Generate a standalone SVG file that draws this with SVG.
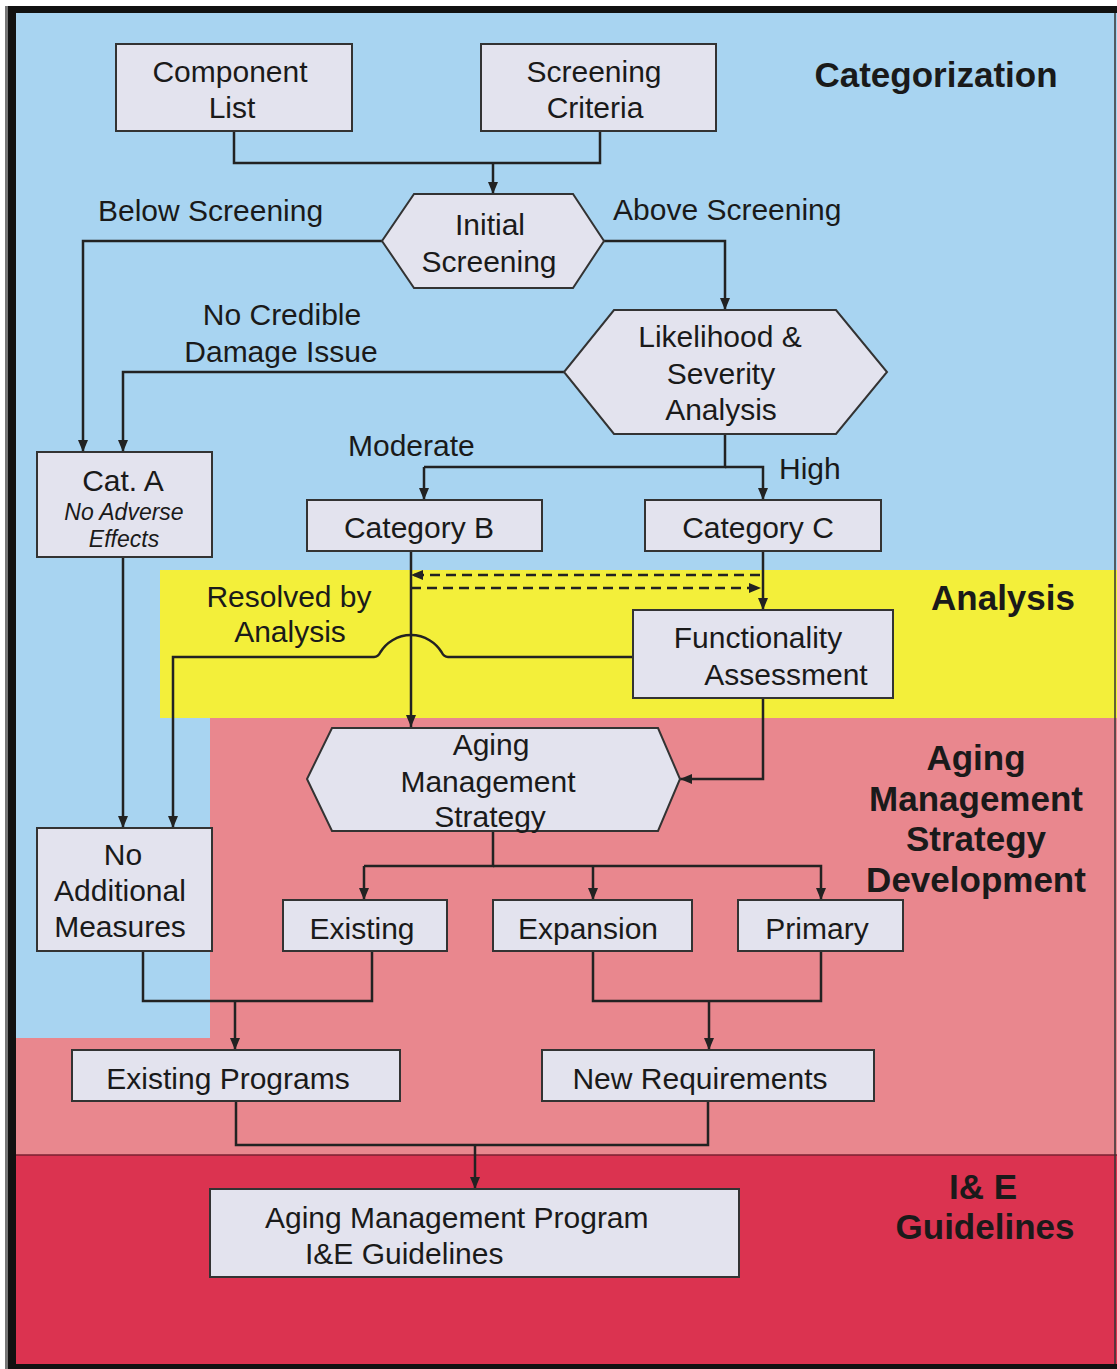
<svg xmlns="http://www.w3.org/2000/svg" width="1117" height="1369" viewBox="0 0 1117 1369">
<defs>
<marker id="ah" viewBox="0 0 12 10" refX="12" refY="5" markerWidth="12" markerHeight="10" markerUnits="userSpaceOnUse" orient="auto"><path d="M0,0 L12,5 L0,10 z" fill="#222"/></marker>
<style>
.n{fill:#e3e3ee;stroke:#333;stroke-width:2}
.t{font-family:"Liberation Sans",Arial,sans-serif;font-size:30px;fill:#1a1a1a;text-anchor:middle}
.s{text-anchor:start}
.i{font-style:italic;font-size:23px}
.h{font-family:"Liberation Sans",Arial,sans-serif;font-size:35px;font-weight:bold;fill:#1a1a1a;text-anchor:middle}
.c{fill:none;stroke:#222;stroke-width:2.5}
.a{marker-end:url(#ah)}
.d{stroke-dasharray:10 6}
</style>
</defs>
<g id="background">
<rect x="5" y="6" width="1112" height="1363" fill="#111"/>
<rect x="5" y="6" width="3" height="1363" fill="#777"/>
<rect x="16" y="13" width="1101" height="1351" fill="#a8d4f1"/>
<rect x="160" y="570" width="957" height="148" fill="#f3ef3a"/>
<rect x="210" y="718" width="907" height="320" fill="#e9878e"/>
<rect x="16" y="1038" width="1101" height="117" fill="#e9878e"/>
<rect x="16" y="1155" width="1101" height="209" fill="#db3350"/>
<line x1="16" y1="1155" x2="1117" y2="1155" stroke="#7a2030" stroke-width="1.5"/>
<line x1="1115" y1="13" x2="1115" y2="1364" stroke="#333" stroke-width="1.5"/>
</g>
<g id="section-labels">
<text class="h" x="936" y="87">Categorization</text>
<text class="h" x="1003" y="610">Analysis</text>
<text class="h" x="976" y="770">Aging</text>
<text class="h" x="976" y="811">Management</text>
<text class="h" x="976" y="851">Strategy</text>
<text class="h" x="976" y="892">Development</text>
<text class="h" x="983" y="1199">I&amp; E</text>
<text class="h" x="985" y="1239">Guidelines</text>
</g>
<g id="connectors">
<path class="c" d="M234 131 V163 H600 V131"/>
<path class="c a" d="M493 163 V194"/>
<path class="c a" d="M382 241 H83 V452"/>
<path class="c a" d="M604 241 H725 V310"/>
<path class="c a" d="M564 372 H123 V452"/>
<path class="c" d="M725 434 V467 H424"/>
<path class="c a" d="M424 467 V500"/>
<path class="c a" d="M725 467 H763 V500"/>
<path class="c a" d="M411 551 V727"/>
<path class="c a" d="M763 551 V610"/>
<path class="c d a" d="M760 575 H411"/>
<path class="c d a" d="M411 588 H761"/>
<path class="c a" d="M633 657 H448 Q444 657 441.5 652 A36 36 0 0 0 380.5 652 Q378 657 374 657 H173 V828"/>
<path class="c a" d="M123 557 V828"/>
<path class="c a" d="M763 698 V779 H680"/>
<path class="c" d="M493 831 V866 H364"/>
<path class="c a" d="M364 866 V900"/>
<path class="c a" d="M593 866 V900"/>
<path class="c a" d="M493 866 H821 V900"/>
<path class="c" d="M143 951 V1001 H372 V951"/>
<path class="c a" d="M235 1001 V1050"/>
<path class="c" d="M593 951 V1001 H821 V951"/>
<path class="c a" d="M709 1001 V1050"/>
<path class="c" d="M236 1101 V1145 H708 V1101"/>
<path class="c a" d="M475 1145 V1189"/>
</g>
<g id="edge-labels">
<text class="t s" x="98" y="221">Below Screening</text>
<text class="t s" x="613" y="220">Above Screening</text>
<text class="t" x="282" y="325">No Credible</text>
<text class="t" x="281" y="362">Damage Issue</text>
<text class="t s" x="348" y="456">Moderate</text>
<text class="t s" x="779" y="479">High</text>
<text class="t" x="289" y="607">Resolved by</text>
<text class="t" x="290" y="642">Analysis</text>
</g>
<g id="component-list">
<rect class="n" x="116" y="44" width="236" height="87"/>
<text class="t" x="230" y="82">Component</text>
<text class="t" x="232" y="118">List</text>
</g>
<g id="screening-criteria">
<rect class="n" x="481" y="44" width="235" height="87"/>
<text class="t" x="594" y="82">Screening</text>
<text class="t" x="595" y="118">Criteria</text>
</g>
<g id="initial-screening">
<polygon class="n" points="414,194 573,194 604,241 573,288 414,288 382,241"/>
<text class="t" x="490" y="235">Initial</text>
<text class="t" x="489" y="272">Screening</text>
</g>
<g id="likelihood-severity">
<polygon class="n" points="614,310 836,310 887,372 836,434 614,434 564,372"/>
<text class="t" x="720" y="347">Likelihood &amp;</text>
<text class="t" x="721" y="384">Severity</text>
<text class="t" x="721" y="420">Analysis</text>
</g>
<g id="cat-a">
<rect class="n" x="37" y="452" width="175" height="105"/>
<text class="t" x="123" y="491">Cat. A</text>
<text class="t i" x="124" y="520">No Adverse</text>
<text class="t i" x="124" y="547">Effects</text>
</g>
<g id="category-b">
<rect class="n" x="307" y="500" width="235" height="51"/>
<text class="t" x="419" y="538">Category B</text>
</g>
<g id="category-c">
<rect class="n" x="645" y="500" width="236" height="51"/>
<text class="t" x="758" y="538">Category C</text>
</g>
<g id="functionality-assessment">
<rect class="n" x="633" y="610" width="260" height="88"/>
<text class="t" x="758" y="648">Functionality</text>
<text class="t" x="786" y="685">Assessment</text>
</g>
<g id="aging-management-strategy">
<polygon class="n" points="332,728 658,728 680,779 658,831 332,831 307,779"/>
<text class="t" x="491" y="755">Aging</text>
<text class="t" x="488" y="792">Management</text>
<text class="t" x="490" y="827">Strategy</text>
</g>
<g id="no-additional-measures">
<rect class="n" x="37" y="828" width="175" height="123"/>
<text class="t" x="123" y="865">No</text>
<text class="t" x="120" y="901">Additional</text>
<text class="t" x="120" y="937">Measures</text>
</g>
<g id="existing">
<rect class="n" x="283" y="900" width="164" height="51"/>
<text class="t" x="362" y="939">Existing</text>
</g>
<g id="expansion">
<rect class="n" x="493" y="900" width="199" height="51"/>
<text class="t" x="588" y="939">Expansion</text>
</g>
<g id="primary">
<rect class="n" x="738" y="900" width="165" height="51"/>
<text class="t" x="817" y="939">Primary</text>
</g>
<g id="existing-programs">
<rect class="n" x="72" y="1050" width="328" height="51"/>
<text class="t" x="228" y="1089">Existing Programs</text>
</g>
<g id="new-requirements">
<rect class="n" x="542" y="1050" width="332" height="51"/>
<text class="t" x="700" y="1089">New Requirements</text>
</g>
<g id="aging-management-program">
<rect class="n" x="210" y="1189" width="529" height="88"/>
<text class="t s" x="265" y="1228">Aging Management Program</text>
<text class="t s" x="305" y="1264">I&amp;E Guidelines</text>
</g>
</svg>
